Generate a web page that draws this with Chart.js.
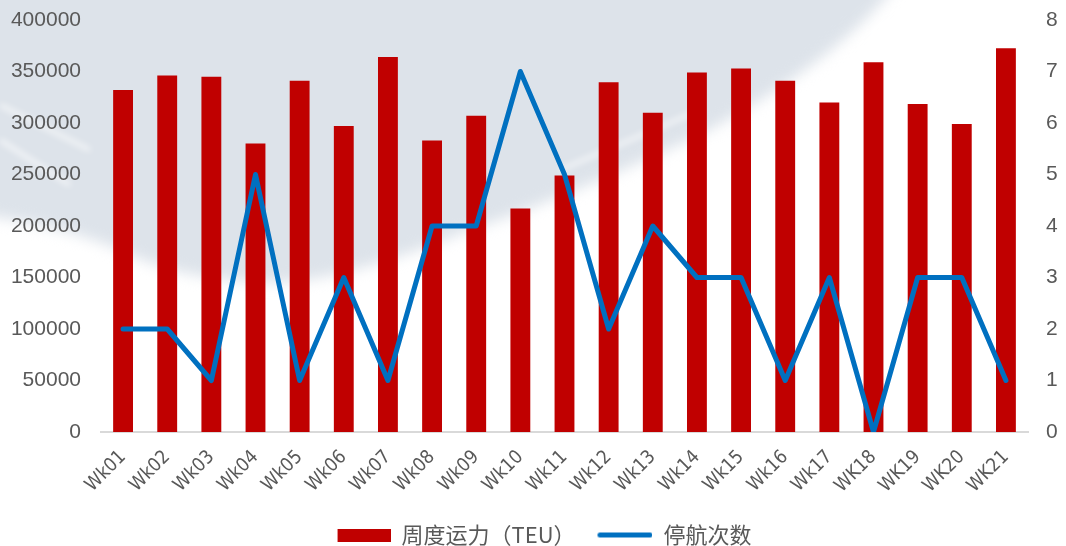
<!DOCTYPE html>
<html>
<head>
<meta charset="utf-8">
<script src="https://cdn.jsdelivr.net/npm/chart.js@4.4.1/dist/chart.umd.min.js"></script>
<style>
  body { margin: 0; background: #fff; }
  #wrap { width: 1066px; height: 546px; }
</style>
</head>
<body>
<div id="wrap"><canvas id="mycanvas" width="1066" height="546"></canvas></div>
<script>
// weekly capacity (TEU) and number of blank sailings
const weeks = ['Wk01', 'Wk02', 'Wk03', 'Wk04', 'Wk05', 'Wk06', 'Wk07', 'Wk08', 'Wk09', 'Wk10', 'Wk11',
    'Wk12', 'Wk13', 'Wk14', 'Wk15', 'Wk16', 'Wk17', 'WK18', 'WK19', 'WK20', 'WK21'];
const capacity = [332000, 346000, 345000, 280000, 341000, 297000, 364000, 283000, 307000, 217000, 249000,
    339500, 310000, 349000, 353000, 341000, 320000, 359000, 318500, 299000, 372500];
const stoppages = [2, 2, 1, 5, 1, 3, 1, 4, 4, 7, 5, 2, 4, 3, 3, 1, 3, 0, 3, 3, 1];
const leftTicks = [0, 400000, 50000];
const rightTicks = [0, 8, 1];

const barLabel = '周度运力（TEU）';
const lineLabel = '停航次数';
const red = '#C00000';
const blue = '#0070C0';
const grey = '#595959';

// legend swatches, drawn at the right of a 76px slot
function swatchBar() {
    var c = document.createElement('canvas');
    c.width = 76; c.height = 13;
    var g = c.getContext('2d');
    g.fillStyle = red;
    g.fillRect(23, 0, 53, 13);
    return c;
}
function swatchLine() {
    var c = document.createElement('canvas');
    c.width = 76; c.height = 7;
    var g = c.getContext('2d');
    g.strokeStyle = blue;
    g.lineWidth = 5;
    g.lineCap = 'round';
    g.beginPath();
    g.moveTo(23.5, 3.5);
    g.lineTo(73.5, 3.5);
    g.stroke();
    return c;
}

// faint brush-stroke watermark behind the plot
const backdrop = {
    id: 'backdrop',
    beforeDraw: function (chart) {
        var ctx = chart.ctx;
        ctx.save();
        ctx.fillStyle = '#ffffff';
        ctx.fillRect(0, 0, chart.width, chart.height);
        ctx.filter = 'blur(7px)';
        ctx.fillStyle = '#dde3ea';
        ctx.beginPath();
        ctx.moveTo(-20, -20);
        ctx.lineTo(900, -20);
        ctx.quadraticCurveTo(840, 60, 700, 135);
        ctx.quadraticCurveTo(560, 200, 470, 230);
        ctx.quadraticCurveTo(360, 275, 290, 282);
        ctx.quadraticCurveTo(190, 285, 120, 250);
        ctx.quadraticCurveTo(60, 225, -20, 215);
        ctx.closePath();
        ctx.fill();
        ctx.filter = 'blur(3px)';
        ctx.strokeStyle = 'rgba(255,255,255,0.7)';
        ctx.lineWidth = 4;
        ctx.beginPath();
        ctx.moveTo(0, 105);
        ctx.lineTo(90, 150);
        ctx.moveTo(0, 140);
        ctx.lineTo(70, 185);
        ctx.moveTo(560, 170);
        ctx.lineTo(700, 110);
        ctx.stroke();
        ctx.restore();
    }
};

const tickFont = { family: '"Liberation Sans", "Noto Sans CJK SC", sans-serif', size: 21 };
const xFont = { family: '"Liberation Sans Narrow", "DejaVu Sans Condensed", "Liberation Sans", sans-serif', size: 19 };

// fixed axis widths, no extra label padding above/below the plot
function fitY(width) {
    return function (scale) {
        scale.width = width;
        scale.paddingTop = 0;
        scale.paddingBottom = 0;
    };
}

const chartdata = {
    labels: weeks,
    datasets: [{
        type: 'bar',
        label: barLabel,
        data: capacity,
        backgroundColor: red,
        borderWidth: 0,
        categoryPercentage: 1,
        barPercentage: 0.45,
        yAxisID: 'y',
        order: 2
    }, {
        type: 'line',
        label: lineLabel,
        data: stoppages,
        borderColor: blue,
        backgroundColor: blue,
        borderWidth: 5,
        borderJoinStyle: 'round',
        borderCapStyle: 'round',
        pointRadius: 0,
        tension: 0,
        yAxisID: 'y1',
        order: 1
    }]
};

var ctx = document.getElementById('mycanvas');
var chart = new Chart(ctx, {
    data: chartdata,
    plugins: [backdrop],
    options: {
        responsive: false,
        animation: false,
        layout: { padding: { top: 20, left: 0, right: 0, bottom: -10 } },
        plugins: {
            tooltip: { enabled: false },
            legend: {
                position: 'bottom',
                labels: {
                    usePointStyle: true,
                    pointStyleWidth: 76,
                    padding: 1,
                    color: grey,
                    font: { family: '"Noto Sans CJK SC", sans-serif', size: 22 },
                    generateLabels: function () {
                        return [
                            { text: barLabel, pointStyle: swatchBar(), fillStyle: red, strokeStyle: red, lineWidth: 0, hidden: false, datasetIndex: 0, fontColor: grey },
                            { text: lineLabel, pointStyle: swatchLine(), fillStyle: blue, strokeStyle: blue, lineWidth: 0, hidden: false, datasetIndex: 1, fontColor: grey }
                        ];
                    }
                }
            }
        },
        scales: {
            x: {
                offset: true,
                grid: { display: false, drawTicks: false },
                border: { display: true, color: '#d9d9d9', width: 2 },
                ticks: { color: grey, font: xFont, minRotation: 45, maxRotation: 45, padding: 14, autoSkip: false },
                afterFit: function (scale) { scale.height = 91; }
            },
            y: {
                position: 'left',
                min: leftTicks[0],
                max: leftTicks[1],
                grid: { display: false, drawTicks: false },
                border: { display: false },
                ticks: { stepSize: leftTicks[2], color: grey, font: tickFont, padding: 20, callback: function (v) { return String(v); } },
                afterFit: fitY(101)
            },
            y1: {
                position: 'right',
                min: rightTicks[0],
                max: rightTicks[1],
                grid: { display: false, drawTicks: false },
                border: { display: false },
                ticks: { stepSize: rightTicks[2], color: grey, font: tickFont, padding: 18, callback: function (v) { return String(v); } },
                afterFit: fitY(38)
            }
        }
    }
});
</script>
</body>
</html>
